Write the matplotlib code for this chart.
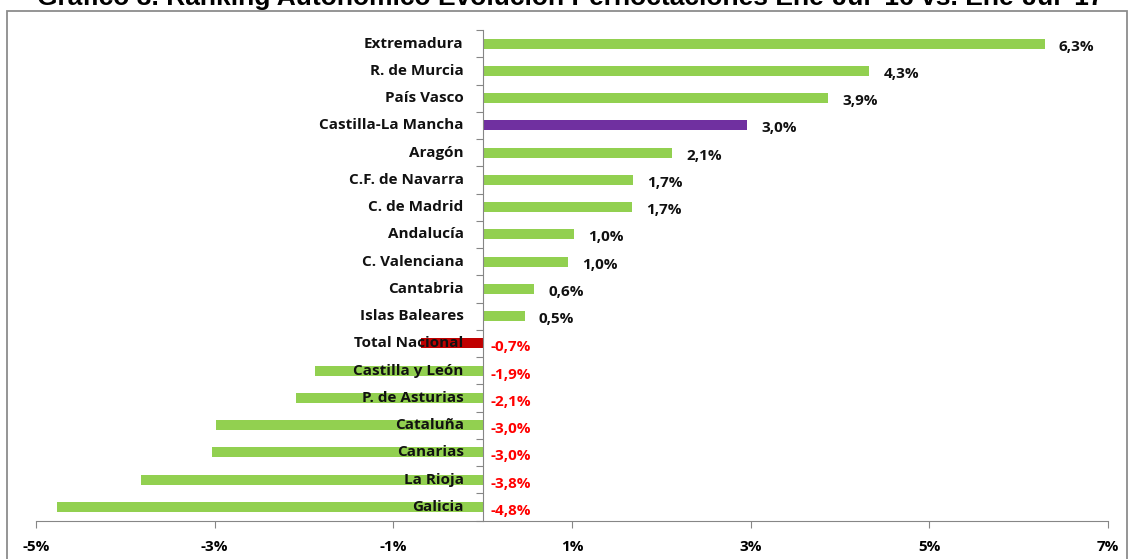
import numpy as np
import matplotlib.pyplot as plt
from matplotlib.patches import Rectangle

# Datos del gráfico
titulo = "Gráfico 3. Ranking Autonómico Evolución Pernoctaciones Ene-Jul '16 vs. Ene-Jul '17"
regiones = ["Extremadura", "R. de Murcia", "País Vasco", "Castilla-La Mancha", "Aragón",
            "C.F. de Navarra", "C. de Madrid", "Andalucía", "C. Valenciana", "Cantabria",
            "Islas Baleares", "Total Nacional", "Castilla y León", "P. de Asturias",
            "Cataluña", "Canarias", "La Rioja", "Galicia"]
valores = [6.29, 4.33, 3.87, 2.96, 2.12, 1.68, 1.67, 1.02, 0.96, 0.58, 0.47,
           -0.69, -1.88, -2.09, -2.99, -3.03, -3.83, -4.76]
xticks = [-5, -3, -1, 1, 3, 5, 7]
xtick_labels = ["-5%", "-3%", "-1%", "1%", "3%", "5%", "7%"]

VERDE = "#92D050"
destacados = {"Castilla-La Mancha": "#7030A0", "Total Nacional": "#C00000"}
GRIS = "#868686"
FUENTE = ["Open Sans", "DejaVu Sans"]

W, H = 1128, 559
fig = plt.figure(figsize=(W / 100, H / 100), dpi=100)
fig.patch.set_facecolor("white")

# marco exterior del gráfico
fig.add_artist(Rectangle((7 / W, -0.01), (1127 - 7) / W, 1 - 10.7 / H + 0.01,
                         transform=fig.transFigure, fill=False,
                         edgecolor="#8c8c8c", lw=1.3))

# el título queda recortado por arriba, como en el original
fig.text(570 / W, 1 - 4.5 / H, titulo, ha="center", va="baseline", fontsize=19,
         fontweight="bold", family=["Liberation Sans", "DejaVu Sans"])

ax = fig.add_axes([36 / W, 1 - 520.5 / H, (1108 - 36) / W, (520.5 - 30) / H])
n = len(regiones)
y = np.arange(n)
colores = [destacados.get(r, VERDE) for r in regiones]
ax.barh(y, valores, height=0.37, color=colores, zorder=2)

ax.set_xlim(-5, 7)
ax.set_ylim(n - 0.5, -0.5)

for s in ["top", "right"]:
    ax.spines[s].set_visible(False)
ax.spines["left"].set_position(("data", 0))
ax.spines["left"].set_color(GRIS)
ax.spines["bottom"].set_color(GRIS)
ax.spines["left"].set_zorder(3)

ax.set_xticks(xticks)
ax.set_xticklabels(xtick_labels)
for lab in ax.get_xticklabels():
    lab.set_fontweight("bold")
    lab.set_family(FUENTE)
ax.tick_params(axis="x", direction="out", length=5, color=GRIS, labelsize=11, pad=9)

ax.set_yticks(np.arange(-0.5, n, 1))
ax.set_yticklabels([])
ax.tick_params(axis="y", direction="out", length=5, color=GRIS)

for i, (r, v) in enumerate(zip(regiones, valores)):
    ax.annotate(r, xy=(0, i), xytext=(-19, 0), textcoords="offset pixels",
                ha="right", va="center", fontsize=11, fontweight="bold",
                family=FUENTE, color="#111111", zorder=4)
    txt = f"{v:.1f}%".replace(".", ",")
    if v >= 0:
        ax.annotate(txt, xy=(v, i), xytext=(14, -3), textcoords="offset pixels",
                    ha="left", va="center", fontsize=11, fontweight="bold",
                    family=FUENTE, color="#111111")
    else:
        ax.annotate(txt, xy=(0, i), xytext=(8, -4), textcoords="offset pixels",
                    ha="left", va="center", fontsize=11, fontweight="bold",
                    family=FUENTE, color="#FF0000")

fig.savefig("out.png", dpi=100)
